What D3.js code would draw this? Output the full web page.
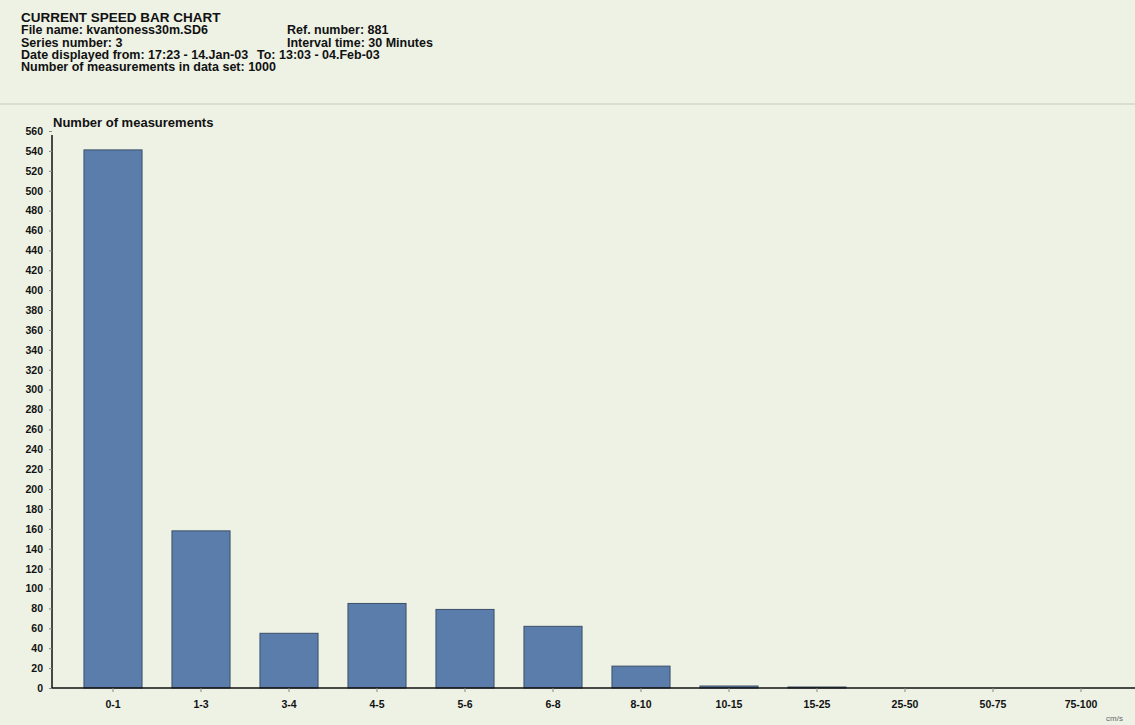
<!DOCTYPE html>
<html>
<head>
<meta charset="utf-8">
<script src="https://cdn.jsdelivr.net/npm/d3@7"></script>
<style>
  body { margin: 0; background: #edf2e5; }
  svg { display: block; }
  text { font-family: "Liberation Sans", Arial, sans-serif; font-weight: bold; fill: #111; }
</style>
</head>
<body>
<div id="chart"></div>
<script>
// speed classes (cm/s) and number of measurements in each
const speedClasses = ["0-1", "1-3", "3-4", "4-5", "5-6", "6-8", "8-10", "10-15", "15-25", "25-50", "50-75", "75-100"];
const counts = [541, 158, 55, 85, 79, 62, 22, 2, 1, 0, 0, 0];
const yTicks = d3.range(0, 561, 20);

const headerLeft = [
  "CURRENT SPEED BAR CHART",
  "File name: kvantoness30m.SD6",
  "Series number: 3",
  "Date displayed from: 17:23 - 14.Jan-03",
  "Number of measurements in data set: 1000"
];
const headerRight = [
  "",
  "Ref. number: 881",
  "Interval time: 30 Minutes",
  "To: 13:03 - 04.Feb-03",
  ""
];

const width = 1135, height = 725;
const margin = {top: 131, right: 10, bottom: 37, left: 52};

const svg = d3.select("#chart").append("svg")
    .attr("width", width)
    .attr("height", height);

// background
svg.append("rect")
    .attr("width", width)
    .attr("height", height)
    .attr("fill", "#edf2e5");

// header block
headerLeft.forEach((t, i) => {
  svg.append("text")
     .attr("x", 21)
     .attr("y", 22 + i * 12.3)
     .style("font-size", i === 0 ? "13.5px" : "12.5px")
     .text(t);
});
headerRight.forEach((t, i) => {
  if (!t) return;
  svg.append("text")
     .attr("x", i === 3 ? 257 : 287)
     .attr("y", 22 + i * 12.3)
     .style("font-size", "12.5px")
     .text(t);
});

// faint separator under the header
svg.append("line")
   .attr("x1", 0).attr("x2", width)
   .attr("y1", 104).attr("y2", 104)
   .attr("stroke", "#c4cabd")
   .attr("stroke-width", 1);

// scales
const x = d3.scaleBand()
    .domain(speedClasses)
    .range([69, 1125])
    .paddingInner(0.34)
    .paddingOuter(0.17);

const y = d3.scaleLinear()
    .domain([0, 560])
    .range([height - margin.bottom, margin.top]);

// bars
svg.append("g")
   .selectAll("rect")
   .data(counts)
   .enter()
   .append("rect")
   .attr("x", (d, i) => x(speedClasses[i]))
   .attr("y", d => y(d))
   .attr("width", x.bandwidth())
   .attr("height", d => y(0) - y(d))
   .attr("fill", "#5a7dab")
   .attr("stroke", "#3d4f66")
   .attr("stroke-width", 1);

// y axis
const yAxis = svg.append("g")
    .attr("transform", `translate(${margin.left},0)`)
    .call(d3.axisLeft(y).tickValues(yTicks).tickSize(3).tickPadding(6));
yAxis.select(".domain").attr("stroke", "#111").attr("stroke-width", 1.5)
     .attr("d", `M0,${y(0)}V${y(556)}`);
yAxis.selectAll(".tick line").attr("stroke", "#888");
yAxis.selectAll(".tick text")
     .style("font-family", "Liberation Sans, Arial, sans-serif")
     .style("font-weight", "bold")
     .style("font-size", "10.5px")
     .attr("fill", "#111");

// x axis
const xAxis = svg.append("g")
    .attr("transform", `translate(0,${y(0)})`)
    .call(d3.axisBottom(x).tickSize(4).tickPadding(9));
xAxis.select(".domain").attr("stroke", "#111").attr("stroke-width", 1.5)
     .attr("d", `M${margin.left},0H${width}`);
xAxis.selectAll(".tick line").attr("stroke", "#888");
xAxis.selectAll(".tick text")
     .style("font-family", "Liberation Sans, Arial, sans-serif")
     .style("font-weight", "bold")
     .style("font-size", "10.5px")
     .attr("fill", "#222");

// axis titles
svg.append("text")
   .attr("x", 53)
   .attr("y", 127)
   .style("font-size", "13px")
   .text("Number of measurements");

svg.append("text")
   .attr("x", 1106)
   .attr("y", 721)
   .style("font-size", "8px")
   .style("font-weight", "normal")
   .style("fill", "#666")
   .text("cm/s");
</script>
</body>
</html>
